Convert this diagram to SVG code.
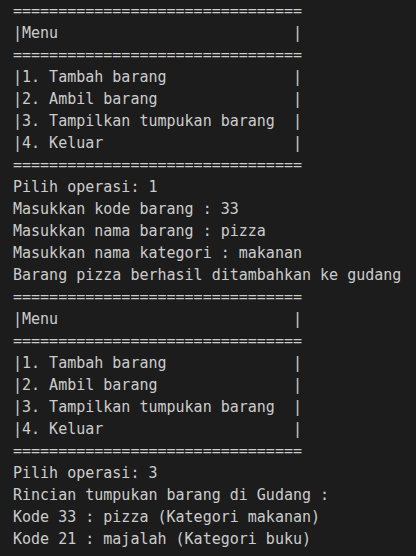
<svg xmlns="http://www.w3.org/2000/svg" width="416" height="556" viewBox="0 0 416 556">
<style>
text{font-family:"DejaVu Sans Mono","Liberation Mono",monospace;font-size:15px;fill:#cccccc;white-space:pre}
</style>
<rect width="416" height="556" fill="#1c1c1c"/>
<g id="terminal" xml:space="preserve">
<text x="13" y="16">================================</text>
<text x="13" y="38">|Menu                          |</text>
<text x="13" y="60">================================</text>
<text x="13" y="82">|1. Tambah barang              |</text>
<text x="13" y="104">|2. Ambil barang               |</text>
<text x="13" y="126">|3. Tampilkan tumpukan barang  |</text>
<text x="13" y="148">|4. Keluar                     |</text>
<text x="13" y="170">================================</text>
<text x="13" y="192">Pilih operasi: 1</text>
<text x="13" y="214">Masukkan kode barang : 33</text>
<text x="13" y="236">Masukkan nama barang : pizza</text>
<text x="13" y="258">Masukkan nama kategori : makanan</text>
<text x="13" y="280">Barang pizza berhasil ditambahkan ke gudang</text>
<text x="13" y="302">================================</text>
<text x="13" y="324">|Menu                          |</text>
<text x="13" y="346">================================</text>
<text x="13" y="368">|1. Tambah barang              |</text>
<text x="13" y="390">|2. Ambil barang               |</text>
<text x="13" y="412">|3. Tampilkan tumpukan barang  |</text>
<text x="13" y="434">|4. Keluar                     |</text>
<text x="13" y="456">================================</text>
<text x="13" y="478">Pilih operasi: 3</text>
<text x="13" y="500">Rincian tumpukan barang di Gudang :</text>
<text x="13" y="522">Kode 33 : pizza (Kategori makanan)</text>
<text x="13" y="544">Kode 21 : majalah (Kategori buku)</text>
</g>
</svg>
